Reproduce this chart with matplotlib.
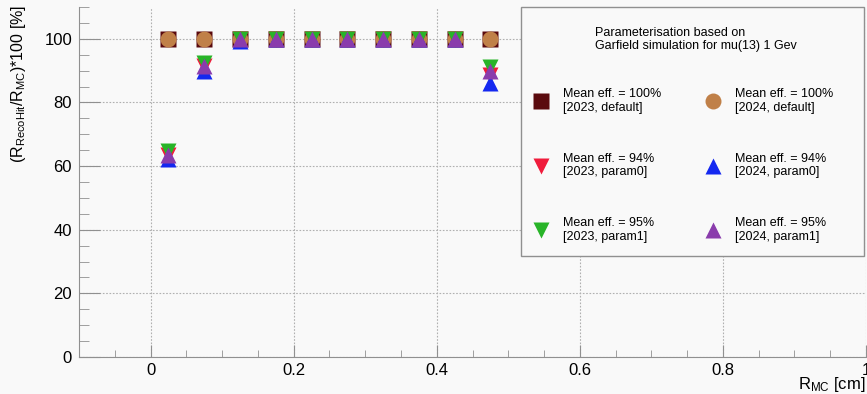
import matplotlib
matplotlib.use("Agg")
import matplotlib.pyplot as plt
from matplotlib.patches import Rectangle
from matplotlib.ticker import MultipleLocator

plt.rcParams['font.family'] = ['Liberation Sans', 'DejaVu Sans']
plt.rcParams['mathtext.fontset'] = 'custom'
plt.rcParams['mathtext.rm'] = 'Liberation Sans'
plt.rcParams['mathtext.it'] = 'Liberation Sans:italic'

# ---- data ----
r_mc = [0.025, 0.075, 0.125, 0.175, 0.225, 0.275, 0.325, 0.375, 0.425, 0.475]
eff_2023_default = [100, 100, 100, 100, 100, 100, 100, 100, 100, 100]
eff_2024_default = [100, 100, 100, 100, 100, 100, 100, 100, 100, 100]
eff_2023_param0 = [63.5, 91.5, 100, 100, 100, 100, 100, 100, 100, 88.5]
eff_2024_param0 = [62.3, 89.8, 99.3, 100, 100, 100, 100, 100, 100, 86.2]
eff_2023_param1 = [64.8, 92.5, 100, 100, 100, 100, 100, 100, 100, 91.2]
eff_2024_param1 = [63.5, 91.5, 100, 100, 100, 100, 100, 100, 100, 89.8]

labels = ["Mean eff. = 100%\n[2023, default]",
          "Mean eff. = 94%\n[2023, param0]",
          "Mean eff. = 95%\n[2023, param1]",
          "Mean eff. = 100%\n[2024, default]",
          "Mean eff. = 94%\n[2024, param0]",
          "Mean eff. = 95%\n[2024, param1]"]
title_text = "Parameterisation based on\nGarfield simulation for mu(13) 1 Gev"

bg = '#f9f9f9'
fig = plt.figure(figsize=(8.67, 3.94), dpi=100, facecolor=bg)
ax = fig.add_axes([79/867, 1-357/394, (866-79)/867, (357-7)/394])
ax.set_facecolor(bg)

h1, = ax.plot(r_mc, eff_2023_default, 's', color='#5a0a0e', ms=12, mec='none', label=labels[0])
h4, = ax.plot(r_mc, eff_2024_default, 'o', color='#c08048', ms=11.5, mec='none', label=labels[3])
h2, = ax.plot(r_mc, eff_2023_param0, 'v', color='#f01c3c', ms=12, mec='none', label=labels[1])
h5, = ax.plot(r_mc, eff_2024_param0, '^', color='#1428f0', ms=12, mec='none', label=labels[4])
h3, = ax.plot(r_mc, eff_2023_param1, 'v', color='#28b428', ms=12, mec='none', label=labels[2])
h6, = ax.plot(r_mc, eff_2024_param1, '^', color='#8a3cac', ms=12, mec='none', label=labels[5])

ax.set_xlim(-0.1, 1.0)
ax.set_ylim(0, 110)
ax.xaxis.set_major_locator(MultipleLocator(0.2))
ax.xaxis.set_minor_locator(MultipleLocator(0.05))
ax.yaxis.set_major_locator(MultipleLocator(20))
ax.yaxis.set_minor_locator(MultipleLocator(5))
ax.set_xticks([0, 0.2, 0.4, 0.6, 0.8, 1.0])
ax.set_xticklabels(['0', '0.2', '0.4', '0.6', '0.8', '1'])

spc = '#909090'
for s in ['top', 'right']:
    ax.spines[s].set_visible(False)
for s in ['left', 'bottom']:
    ax.spines[s].set_color(spc)
ax.tick_params(axis='y', which='major', direction='in', length=15, color=spc, labelsize=12, pad=5)
ax.tick_params(axis='y', which='minor', direction='in', length=7.5, color=spc)
ax.tick_params(axis='x', which='major', direction='in', length=9, color=spc, labelsize=12, pad=4)
ax.tick_params(axis='x', which='minor', direction='in', length=5, color=spc)
ax.grid(True, which='major', linestyle=(0, (1.5, 1.5)), color='#b0b0b0', linewidth=0.8)
ax.set_axisbelow(True)

fig.text(865/867, 1-384/394, r'$\mathrm{R}_{\mathrm{MC}}$ [cm]', ha='right', va='center', fontsize=12)
fig.text(19/867, 1-5/394, r'$(\mathrm{R}_{\mathrm{RecoHit}}/\mathrm{R}_{\mathrm{MC}})$*100 [%]',
         rotation=90, ha='center', va='top', fontsize=11.5)

# legend box
fig.patches.append(Rectangle((521/867, 1-256/394), (864-521)/867, (256-7)/394,
                             transform=fig.transFigure, facecolor=bg, edgecolor='#909090',
                             linewidth=1, zorder=3))
fig.text(595/867, 1-39.5/394, title_text, ha='left', va='center', fontsize=9,
         linespacing=1.2, zorder=4)
leg = fig.legend(handles=[h1, h2, h3, h4, h5, h6], ncol=2, frameon=False,
                 loc='upper left', bbox_to_anchor=(531/867, 1-88/394),
                 fontsize=9, borderpad=0, handlelength=1.6, handletextpad=0.96,
                 columnspacing=3.32, labelspacing=3.1, borderaxespad=0)
leg.set_zorder(5)

fig.savefig('out.png', dpi=100, facecolor=bg)
